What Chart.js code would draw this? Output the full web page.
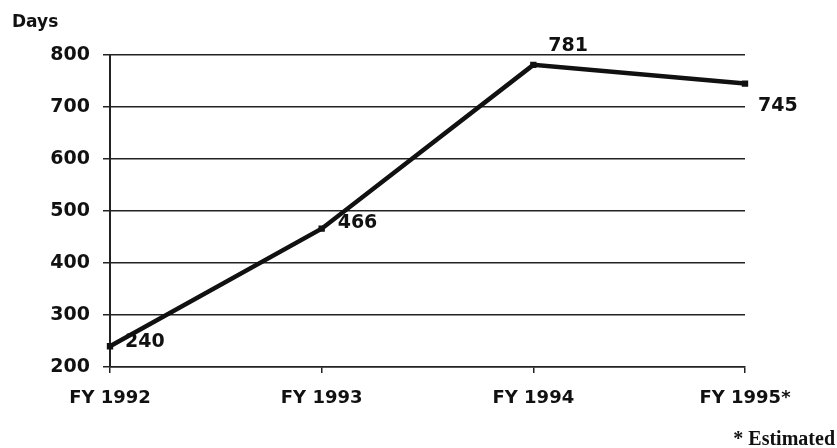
<!DOCTYPE html>
<html>
<head>
<meta charset="utf-8">
<script src="https://cdn.jsdelivr.net/npm/chart.js@4.4.0/dist/chart.umd.min.js"></script>
<style>
  html, body { margin: 0; padding: 0; background: #fff; }
  #wrap { width: 837px; height: 448px; position: relative; }
</style>
</head>
<body>
<div id="wrap"><canvas id="grafica" width="837" height="448"></canvas></div>
<script>
// datos
const categorias = ["FY 1992", "FY 1993", "FY 1994", "FY 1995*"];
const dias = [240, 466, 781, 745];
const ticksY = [200, 300, 400, 500, 600, 700, 800];
// desplazamiento de cada etiqueta respecto a su punto (dx, dy)
const desplazEtiquetas = [[15, -4], [16, -6], [15, -19], [13, 22]];

const fuente = "'DejaVu Sans', 'Liberation Sans', Arial, sans-serif";

const textosExtra = {
    id: "textosExtra",
    afterDatasetsDraw(chart) {
        const ctx = chart.ctx;
        const meta = chart.getDatasetMeta(0);
        ctx.save();
        ctx.fillStyle = "#111";
        ctx.font = "bold 19px " + fuente;
        ctx.textAlign = "left";
        ctx.textBaseline = "middle";
        meta.data.forEach((pt, i) => {
            const d = desplazEtiquetas[i];
            ctx.fillText(String(dias[i]), pt.x + d[0], pt.y + d[1]);
        });

        // titulo del eje
        ctx.font = "bold 17px " + fuente;
        ctx.fillText("Days", 12, 23);

        // nota al pie
        ctx.font = "bold 20px 'Liberation Serif', 'Times New Roman', serif";
        ctx.textAlign = "right";
        ctx.fillText("* Estimated", 835, 440);
        ctx.restore();
    }
};

new Chart(document.getElementById("grafica").getContext("2d"), {
    type: "line",
    data: {
        labels: categorias,
        datasets: [{
            data: dias,
            borderColor: "#111",
            borderWidth: 4.5,
            backgroundColor: "#111",
            pointStyle: "rect",
            pointRadius: 4.5,
            pointBorderWidth: 0,
            tension: 0
        }]
    },
    options: {
        responsive: false,
        animation: false,
        layout: { padding: { left: 0, right: 92, top: 55, bottom: 0 } },
        plugins: { legend: { display: false }, tooltip: { enabled: false } },
        scales: {
            x: {
                offset: false,
                grid: { drawOnChartArea: false, drawTicks: true, tickLength: 6, color: "#222", lineWidth: 1.5 },
                border: { display: true, color: "#222", width: 1.5 },
                ticks: { color: "#111", font: { family: fuente, size: 18, weight: "bold" }, padding: 15, maxRotation: 0 },
                afterFit(scale) { scale.height = 81; }
            },
            y: {
                min: 200,
                max: 800,
                afterBuildTicks(scale) { scale.ticks = ticksY.map(v => ({ value: v })); },
                grid: { color: "#222", lineWidth: 1.5, tickLength: 7 },
                border: { display: true, color: "#222", width: 2 },
                ticks: { color: "#111", font: { family: fuente, size: 19, weight: "bold" }, padding: 13 },
                afterFit(scale) { scale.width = 110; }
            }
        }
    },
    plugins: [textosExtra]
});
</script>
</body>
</html>
